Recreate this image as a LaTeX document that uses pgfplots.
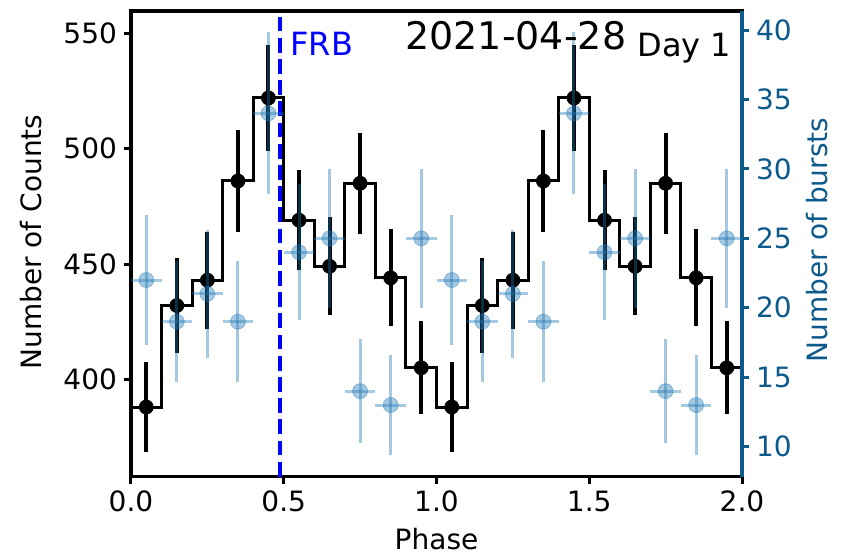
\documentclass[border=0pt]{standalone}
\usepackage{pgfplots}
\pgfplotsset{compat=1.18}
\usepackage{pgfplotstable}
\usepackage{fontspec}
\setmainfont{DejaVu Sans}

\definecolor{cZero}{HTML}{1F77B4}
\definecolor{burstax}{HTML}{0C5A8C}
\definecolor{frbblue}{RGB}{0,0,255}

% counts per phase bin (two cycles), with Poisson errors
\pgfplotstableread{
x    c    ec
0.05 388 19.70
0.15 432 20.78
0.25 443 21.05
0.35 486 22.05
0.45 522 22.85
0.55 469 21.66
0.65 449 21.19
0.75 485 22.02
0.85 444 21.07
0.95 405 20.12
1.05 388 19.70
1.15 432 20.78
1.25 443 21.05
1.35 486 22.05
1.45 522 22.85
1.55 469 21.66
1.65 449 21.19
1.75 485 22.02
1.85 444 21.07
1.95 405 20.12
}\countsdata

% bin edges for the step outline
\pgfplotstableread{
x   c
0.0 388
0.1 432
0.2 443
0.3 486
0.4 522
0.5 469
0.6 449
0.7 485
0.8 444
0.9 405
1.0 388
1.1 432
1.2 443
1.3 486
1.4 522
1.5 469
1.6 449
1.7 485
1.8 444
1.9 405
2.0 405
}\stepdata

% bursts per phase bin
\pgfplotstableread{
x    b  ex   eb
0.05 22 0.05 4.69
0.15 19 0.05 4.36
0.25 21 0.05 4.58
0.35 19 0.05 4.36
0.45 34 0.05 5.83
0.55 24 0.05 4.90
0.65 25 0.05 5.00
0.75 14 0.05 3.74
0.85 13 0.05 3.61
0.95 25 0.05 5.00
1.05 22 0.05 4.69
1.15 19 0.05 4.36
1.25 21 0.05 4.58
1.35 19 0.05 4.36
1.45 34 0.05 5.83
1.55 24 0.05 4.90
1.65 25 0.05 5.00
1.75 14 0.05 3.74
1.85 13 0.05 3.61
1.95 25 0.05 5.00
}\burstdata

\pgfplotsset{
  common/.style={
    scale only axis, width=305.5pt, height=232.85pt,
    at={(0,0)}, anchor=south west,
    xmin=0, xmax=2,
    tick align=outside, major tick length=3.5pt,
    ticklabel style={font=\fontsize{14}{14}\selectfont},
    /pgf/number format/assume math mode=true,
  },
}

\begin{document}
\begin{tikzpicture}
\useasboundingbox (-65.5pt,-39.15pt) rectangle (360pt,238.35pt);

\begin{axis}[
  common,
  ymin=357.8, ymax=559.7,
  axis line style={line width=1.6pt},
  tick style={line width=1.5pt, black},
  xtick={0,0.5,1,1.5,2}, xticklabels={0.0,0.5,1.0,1.5,2.0},
  ytick={400,450,500,550},
  xtick pos=left, ytick pos=left,
]
\addplot[const plot, black, line width=1.5pt, no marks] table[x=x, y=c] {\stepdata};
\addplot[only marks, mark=*, mark size=3.5pt, black,
  error bars/.cd, y dir=both, y explicit,
  error bar style={line width=2pt, black}, error mark=none]
  table[x=x, y=c, y error=ec] {\countsdata};
\addplot[frbblue, line width=2pt, dash pattern=on 7.4pt off 3.2pt, no marks]
  coordinates {(0.487,357.8) (0.487,559.7)};
\end{axis}

\begin{axis}[
  common,
  ymin=7.84, ymax=41.37,
  axis x line=none, axis y line*=right,
  y axis line style={-, burstax, line width=1.6pt},
  ytick={10,15,20,25,30,35,40},
  ytick style={burstax, line width=1.5pt},
  yticklabel style={burstax},
]
\addplot[only marks, mark=*, mark size=3.75pt, mark options={cZero, opacity=0.4},
  error bars/.cd, x dir=both, x explicit, y dir=both, y explicit,
  error bar style={line width=1.5pt, cZero, opacity=0.4}, error mark=none]
  table[x=x, y=b, x error=ex, y error=eb] {\burstdata};
\end{axis}

\node[rotate=90, anchor=base, inner sep=0pt, font=\fontsize{14}{14}\selectfont]
  at (-44.5pt,117.35pt) {Number of Counts};
\node[rotate=90, anchor=base, inner sep=0pt, burstax, font=\fontsize{14}{14}\selectfont]
  at (348pt,118.35pt) {Number of bursts};
\node[anchor=base, inner sep=0pt, font=\fontsize{14}{14}\selectfont]
  at (152.75pt,-36.6pt) {Phase};

\node[anchor=base west, inner sep=0pt, frbblue, font=\fontsize{16}{16}\selectfont]
  at (79.5pt,210.35pt) {FRB};
\node[anchor=base west, inner sep=0pt, font=\fontsize{19}{19}\selectfont]
  at (137pt,213.35pt) {2021-04-28};
\node[anchor=base west, inner sep=0pt, font=\fontsize{16}{16}\selectfont]
  at (253pt,209.85pt) {Day 1};
\end{tikzpicture}
\end{document}
